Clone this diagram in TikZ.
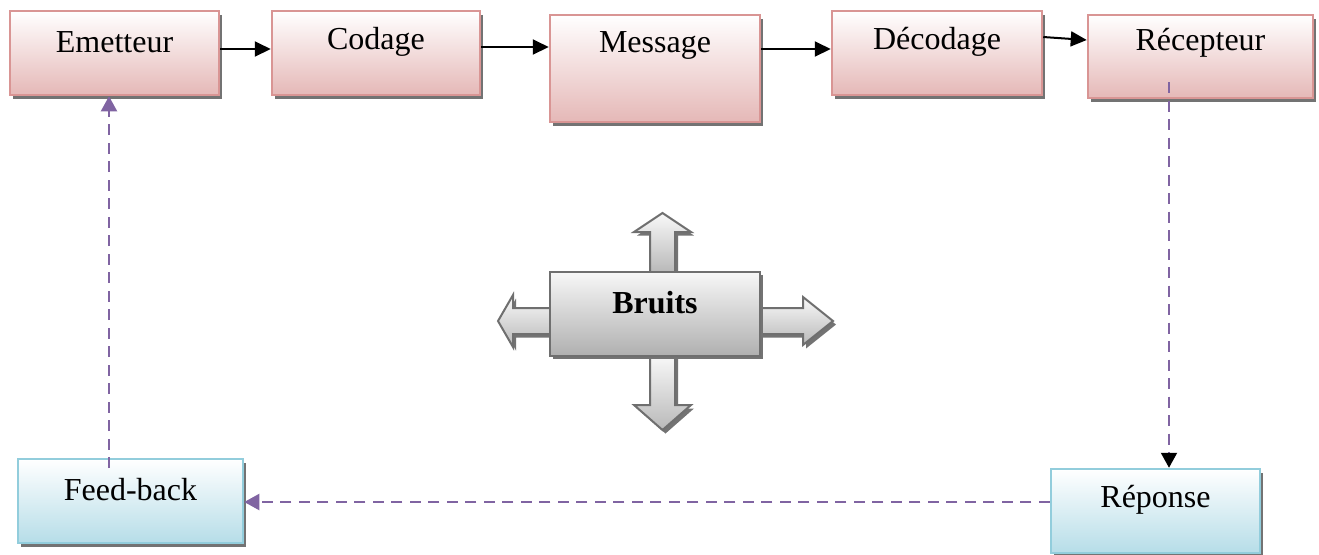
\documentclass[tikz,border=0pt]{standalone}
\usepackage{fontspec}
\setmainfont{Liberation Serif}
\usetikzlibrary{arrows.meta,shadows}
\definecolor{pinkedge}{HTML}{D99594}
\definecolor{pinkfill}{HTML}{E5B8B7}
\definecolor{blueedge}{HTML}{92CDDC}
\definecolor{bluefill}{HTML}{B6DDE8}
\definecolor{noiseedge}{HTML}{6F6F6F}
\definecolor{loopviolet}{HTML}{8064A2}
\tikzset{
  boxshadow/.style={drop shadow={shadow xshift=1.5pt,shadow yshift=-1.75pt,fill=black!55,opacity=1}},
  pinkbox/.style={draw=pinkedge,line width=1.25pt,top color=white,bottom color=pinkfill,
    boxshadow,minimum width=104.5pt,minimum height=42pt,inner sep=0pt},
  bluebox/.style={draw=blueedge,line width=1.25pt,top color=white,bottom color=bluefill,
    boxshadow,minimum width=112.5pt,minimum height=42pt,inner sep=0pt},
  noisebox/.style={draw=noiseedge,line width=1pt,top color=gray!6,bottom color=gray!62,
    boxshadow,minimum width=105pt,minimum height=42pt,inner sep=0pt},
  noisearrow/.style={draw=noiseedge,line width=1pt,top color=gray!5,bottom color=gray!55,boxshadow},
  txt/.style={font=\fontsize{16}{19}\selectfont,inner sep=0pt},
  flow/.style={line width=1pt,-{Triangle[length=8pt,width=7.5pt]}},
  loop/.style={loopviolet,line width=1.3pt,dash pattern=on 5.5pt off 3.75pt},
  violethead/.style={-{Triangle[length=7.5pt,width=8pt,color=loopviolet,fill=loopviolet]}},
  blackhead/.style={-{Triangle[length=7.5pt,width=8pt,color=black,fill=black]}}
}
\begin{document}
\begin{tikzpicture}[x=0.5pt,y=-0.5pt]
\useasboundingbox (0,0) rectangle (1319,554);

% chain of stages
\node[pinkbox] (emetteur) at (114.5,53) {};
\node[pinkbox,minimum width=104pt] (codage) at (376,53) {};
\node[pinkbox,minimum width=105pt,minimum height=53.5pt] (message) at (655,68.5) {};
\node[pinkbox,minimum width=105pt] (decodage) at (937,53) {};
\node[pinkbox,minimum width=112.5pt,minimum height=41.5pt] (recepteur) at (1200.5,56.5) {};

\node[txt] (temetteur) at (114.5,42) {Emetteur};
\node[txt] (tcodage) at (376,42) {Codage};
\node[txt] (tmessage) at (655,45) {Message};
\node[txt] (tdecodage) at (937,42) {Décodage};
\node[txt] (trecepteur) at (1200.5,43) {Récepteur};

% feedback boxes
\node[bluebox] (feedback) at (130.5,501) {};
\node[bluebox,minimum width=104.5pt] (reponse) at (1155.5,511) {};
\node[txt] (tfeedback) at (130.5,490) {Feed-back};
\node[txt] (treponse) at (1155.5,500) {Réponse};

% noise block with its four arrows
\path[noisearrow] (650,272) -- (650,232) -- (634,232) -- (662.5,213) -- (691,232) -- (675,232) -- (675,272) -- cycle;
\path[noisearrow] (650,355) -- (650,405) -- (634,405) -- (662.5,430) -- (691,405) -- (675,405) -- (675,355) -- cycle;
\path[noisearrow] (759,308) -- (803,308) -- (803,297) -- (833,321) -- (803,345) -- (803,334) -- (759,334) -- cycle;
\path[noisearrow] (551,308) -- (513,308) -- (513,295) -- (498,321) -- (513,347) -- (513,334) -- (551,334) -- cycle;
\node[noisebox] (bruits) at (655,313.5) {};
\node[txt,font=\fontsize{16}{19}\selectfont\bfseries] (tbruits) at (655,303) {Bruits};

% forward connectors
\draw[flow] (emetteur.east |- 0,49) -- (codage.west |- 0,49);
\draw[flow] (codage.east |- 0,47) -- (message.west |- 0,47);
\draw[flow] (message.east |- 0,49) -- (decodage.west |- 0,49);
\draw[flow] (decodage.east |- 0,37) -- (recepteur.west |- 0,40);

% feedback loop
\coordinate (rstart) at (1169,82);
\draw[loop] (rstart) -- ([yshift=3.5pt]rstart |- reponse.north);
\draw[blackhead,line width=1pt] ([yshift=4pt]rstart |- reponse.north) -- (rstart |- reponse.north);
\draw[loop] (reponse.west |- 0,502) -- ([xshift=3.5pt]feedback.east |- 0,502);
\draw[violethead,loopviolet,line width=1pt] ([xshift=4pt]feedback.east |- 0,502) -- (feedback.east |- 0,502);
\coordinate (fstart) at (109,468);
\draw[loop] (fstart) -- ([yshift=-3.5pt]fstart |- emetteur.south);
\draw[violethead,loopviolet,line width=1pt] ([yshift=-4pt]fstart |- emetteur.south) -- (fstart |- emetteur.south);
\end{tikzpicture}
\end{document}
